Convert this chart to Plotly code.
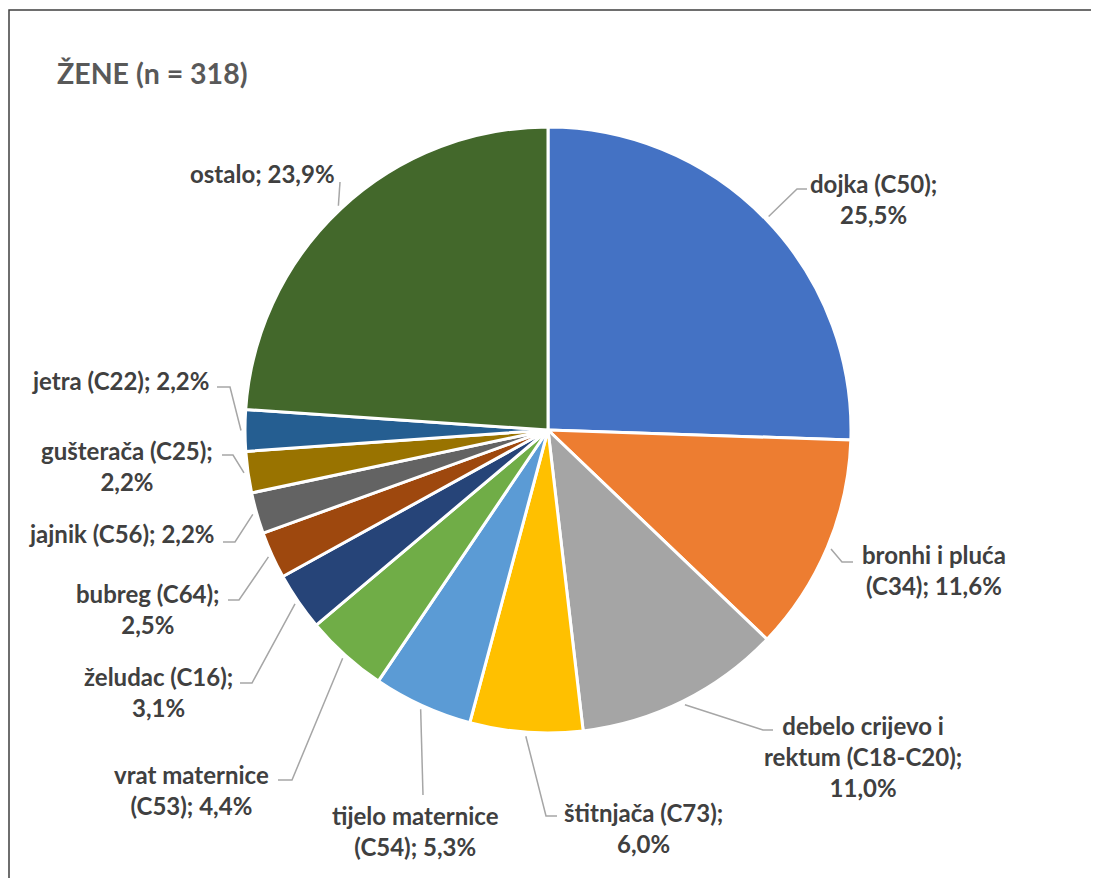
import math
import plotly.graph_objects as go

# chart data
sites = ["dojka (C50)", "bronhi i pluća (C34)", "debelo crijevo i rektum (C18-C20)",
         "štitnjača (C73)", "tijelo maternice (C54)", "vrat maternice (C53)",
         "želudac (C16)", "bubreg (C64)", "jajnik (C56)", "gušterača (C25)",
         "jetra (C22)", "ostalo"]
shares = [25.5, 11.6, 11.0, 6.0, 5.3, 4.4, 3.1, 2.5, 2.2, 2.2, 2.2, 23.9]
colors = ["#4472C4", "#ED7D31", "#A5A5A5", "#FFC000", "#5B9BD5", "#70AD47",
          "#264478", "#9E480E", "#636363", "#997300", "#255E91", "#43682B"]
title_text = "ŽENE (n = 318)"

# layout (pixels): word index where each label wraps, label centre, leader elbow, leader end
wraps = [[2], [3], [3, 5], [2], [2], [2], [2], [2], [], [2], [], []]
label_pos = [(873, 199), (934, 570), (863, 756), (643, 828), (415, 831), (191, 790),
             (158, 692), (148, 609), (122, 533), (127, 466), (120, 381), (262, 173)]
elbows = [(797, 189), (842, 562), (763, 730), (546, 816), (423, 795), (292, 780),
          (252, 683), (239, 600), (235, 542), (233, 455), (230, 387), (340, 182)]
ends = [(807, 189), (853, 562), (773, 730), (557, 816), (423, 795), (278, 780),
        (240, 683), (228, 600), (223, 542), (222, 455), (217, 387), (340, 182)]

W, H = 1099, 878
OFF = 8  # page body margin
FW, FH = W - OFF, H - OFF
CX, CY, R = 548, 430, 303
TEXT = "#404040"


def px(x):
    return (x - OFF) / FW


def py(y):
    return 1 - (y - OFF) / FH


def label_text(name, share, breaks):
    words = f"{name}; {share:.1f}%".replace(".", ",").split(" ")
    out = ""
    for i, w in enumerate(words):
        if i == 0:
            out = w
        elif i in breaks:
            out += "<br>" + w
        else:
            out += " " + w
    return out


fig = go.Figure()
fig.add_trace(go.Pie(
    labels=sites, values=shares, sort=False, direction="clockwise", rotation=0,
    marker=dict(colors=colors, line=dict(color="white", width=3)),
    textinfo="none", hoverinfo="label+percent", showlegend=False,
    domain=dict(x=[px(CX - R), px(CX + R)], y=[py(CY + R), py(CY - R)]),
))

total = sum(shares)
cum = 0
shapes = []
annotations = []
for i, (name, v) in enumerate(zip(sites, shares)):
    mid = (cum + v / 2) / total * 2 * math.pi
    cum += v
    sx = CX + (R + 4) * math.sin(mid)
    sy = CY - (R + 4) * math.cos(mid)
    ex, ey = elbows[i]
    tx, ty = ends[i]
    shapes.append(dict(
        type="path", xref="paper", yref="paper",
        path=f"M {px(sx)},{py(sy)} L {px(ex)},{py(ey)} L {px(tx)},{py(ty)}",
        line=dict(color="#A6A6A6", width=1.5)))
    lx, ly = label_pos[i]
    annotations.append(dict(
        x=px(lx), y=py(ly), xref="paper", yref="paper", showarrow=False,
        xanchor="center", yanchor="middle", align="center",
        text=label_text(name, v, wraps[i]),
        font=dict(family="Lato", size=24, color=TEXT, weight="bold")))

annotations.append(dict(
    x=px(55), y=py(73), xref="paper", yref="paper", showarrow=False,
    xanchor="left", yanchor="middle", text=title_text,
    font=dict(family="Lato", size=28.5, color="#595959", weight="bold")))

# outer chart frame
shapes.append(dict(type="rect", xref="paper", yref="paper",
                   x0=px(9), x1=px(W + 10), y0=py(H + 10), y1=py(10),
                   line=dict(color="#3F3F3F", width=1.5)))

fig.update_layout(
    width=FW, height=FH, margin=dict(l=0, r=0, t=0, b=0),
    paper_bgcolor="white", plot_bgcolor="white",
    shapes=shapes, annotations=annotations,
)

fig.write_html("out.html")
